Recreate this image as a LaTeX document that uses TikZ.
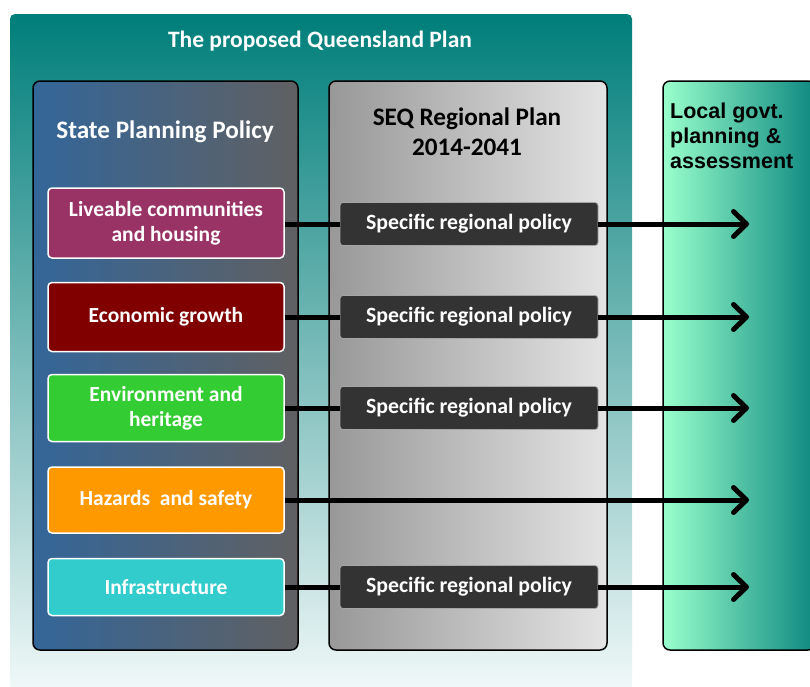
\documentclass[tikz,border=0pt]{standalone}
\usepackage{fontspec}
\setmainfont{Carlito}
\newfontfamily\localfont{Liberation Sans}
\usepackage{tikz}
\usetikzlibrary{arrows.meta}

\definecolor{qteal}{RGB}{0,126,122}
\definecolor{qpale}{RGB}{244,250,250}
\definecolor{spblue}{RGB}{51,102,153}
\definecolor{spgrey}{RGB}{96,96,98}
\definecolor{seqdark}{RGB}{152,152,152}
\definecolor{seqlight}{RGB}{228,228,228}
\definecolor{lgmint}{RGB}{153,255,204}
\definecolor{lgteal}{RGB}{14,136,128}
\definecolor{liveable}{RGB}{153,51,102}
\definecolor{economic}{RGB}{128,0,0}
\definecolor{environment}{RGB}{51,204,51}
\definecolor{hazards}{RGB}{255,153,0}
\definecolor{infra}{RGB}{51,204,204}
\definecolor{specfill}{RGB}{51,51,51}

\tikzset{
  panel/.style={draw=black, line width=1.5pt, rounded corners=7pt, minimum width=#1, minimum height=569pt, inner sep=0pt},
  catbox/.style={draw=white, line width=1.5pt, rounded corners=4pt, fill=#1, text=white, font=\bfseries\fontsize{21.5}{25}\selectfont, align=center, minimum width=236pt, inner sep=0pt},
  specbox/.style={draw=gray!70, line width=0.8pt, rounded corners=3pt, fill=specfill, text=white, font=\bfseries\fontsize{21.8}{25}\selectfont, minimum width=258pt, minimum height=43pt, inner sep=0pt},
  link/.style={line width=5pt},
  flow/.style={line width=5pt, -{Straight Barb[length=13pt,width=25pt,round]}},
}

\begin{document}
\begin{tikzpicture}[x=1pt,y=-1pt]
                \useasboundingbox (0,0) rectangle (810,686);

                % the proposed plan
                \shade[top color=qteal, bottom color=qpale, rounded corners=5pt] (10,14) rectangle (632,700);
                \node[anchor=base, text=white, font=\bfseries\fontsize{23.5}{27}\selectfont] (plantitle) at (320,47) {The proposed Queensland Plan};

                % three panels
                \node[panel=265pt, left color=spblue, right color=spgrey] (state) at (165.5,365.5) {};
                \node[panel=278pt, left color=seqdark, right color=seqlight] (seq) at (468,365.5) {};
                \node[panel=152pt, left color=lgmint, right color=lgteal] (local) at (739,365.5) {};

                \node[anchor=base, text=white, font=\bfseries\fontsize{25.2}{28}\selectfont] (statetitle) at (165,138) {State Planning Policy};
                \node[align=center, font=\bfseries\fontsize{25.2}{30}\selectfont] (seqtitle) at (467,132) {SEQ Regional Plan\\2014-2041};
                \node[anchor=north west, inner sep=0pt, align=left, font=\localfont\bfseries\fontsize{21.5}{25}\selectfont] (localtitle) at (670,103) {Local govt.\\planning \&\\assessment};

                % policy themes
                \node[catbox=liveable, minimum height=70pt] (liveable) at (166,223) {Liveable communities\\and housing};
                \node[catbox=economic, minimum height=69pt] (economic) at (166,317) {Economic growth};
                \node[catbox=environment, minimum height=67pt] (environment) at (166,408) {Environment and\\heritage};
                \node[catbox=hazards, minimum height=66pt] (hazards) at (166,500) {Hazards\ \ and safety};
                \node[catbox=infra, minimum height=57pt] (infra) at (166,587) {Infrastructure};

                % regional policies
                \node[specbox] (specliveable) at (469,224) {Specific regional policy};
                \node[specbox] (spececonomic) at (469,317) {Specific regional policy};
                \node[specbox] (specenvironment) at (469,408) {Specific regional policy};
                \node[specbox] (specinfra) at (469,587) {Specific regional policy};

                \coordinate (tipliveable) at (749,224);
                \coordinate (tipeconomic) at (749,317);
                \coordinate (tipenvironment) at (749,408);
                \coordinate (tiphazards) at (749,500);
                \coordinate (tipinfra) at (749,587);

                \draw[link] (liveable.east |- specliveable) -- (specliveable);
                \draw[link] (economic) -- (spececonomic);
                \draw[link] (environment) -- (specenvironment);
                \draw[link] (infra) -- (specinfra);

                \draw[flow] (specliveable) -- (tipliveable);
                \draw[flow] (spececonomic) -- (tipeconomic);
                \draw[flow] (specenvironment) -- (tipenvironment);
                \draw[flow] (hazards) -- (tiphazards);
                \draw[flow] (specinfra) -- (tipinfra);

            \end{tikzpicture}
\end{document}
